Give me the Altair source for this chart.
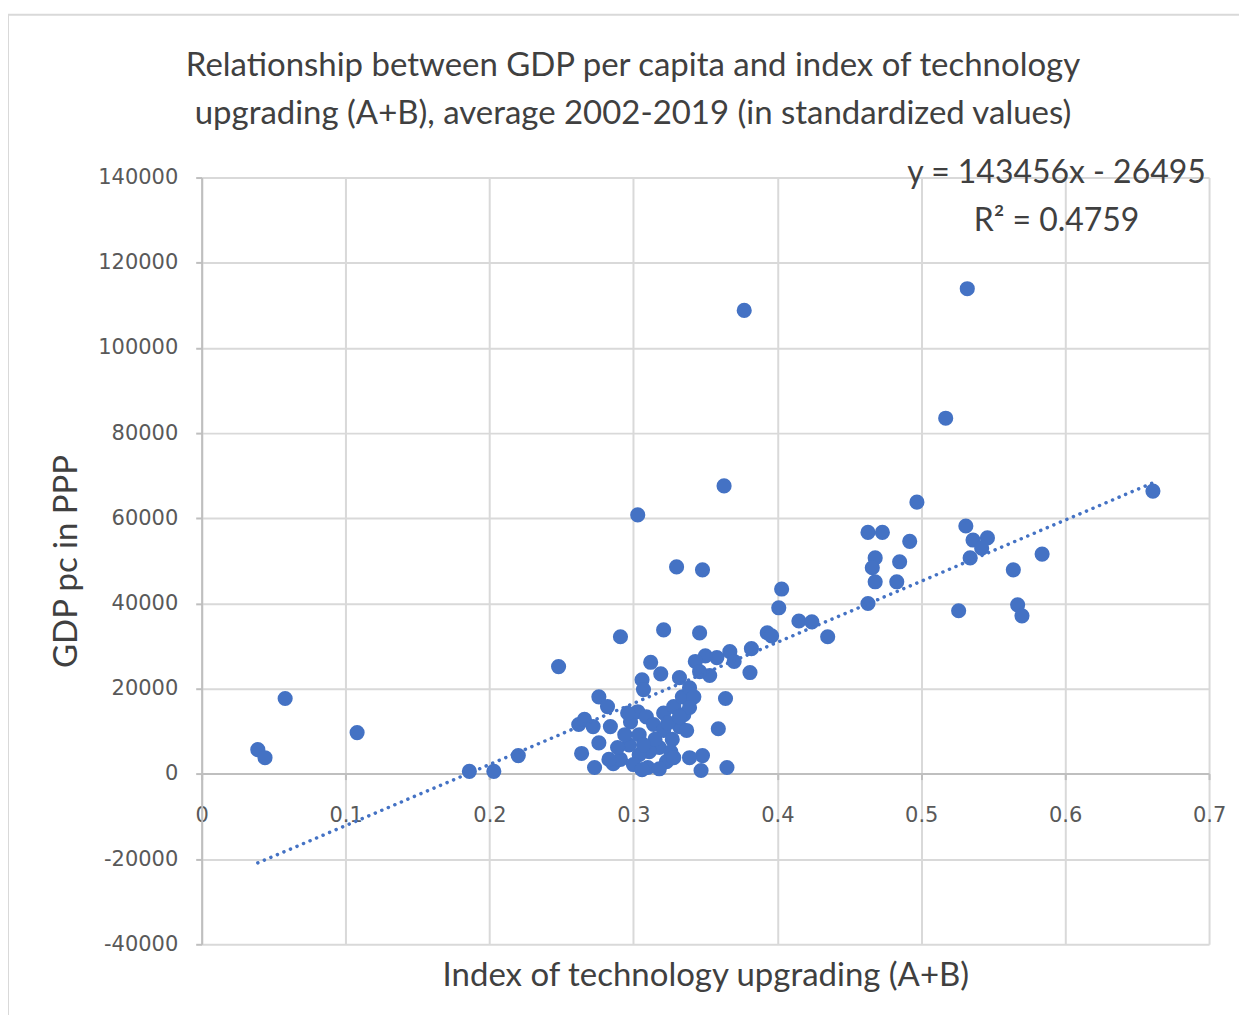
import altair as alt
import pandas as pd

# Index of technology upgrading (A+B)
x_vals = [0.039, 0.044, 0.058, 0.108, 0.186, 0.203, 0.220, 0.248,
          0.291, 0.303, 0.330, 0.348, 0.321, 0.346, 0.377, 0.363,
          0.517, 0.532, 0.497, 0.661, 0.584, 0.564, 0.567, 0.570,
          0.526, 0.531, 0.536, 0.546, 0.542, 0.534,
          0.463, 0.473, 0.492, 0.468, 0.466, 0.485, 0.468, 0.483, 0.463,
          0.435, 0.403, 0.401, 0.393, 0.396, 0.415, 0.424,
          0.382, 0.381, 0.367, 0.370, 0.358, 0.350, 0.343, 0.353, 0.346, 0.332,
          0.364, 0.359, 0.365, 0.347, 0.348, 0.339,
          0.312, 0.319, 0.306, 0.307,
          0.276, 0.282, 0.284, 0.262, 0.266, 0.272, 0.264, 0.273, 0.276,
          0.286, 0.291, 0.297, 0.298, 0.303, 0.296, 0.294, 0.304, 0.309,
          0.314, 0.321, 0.321, 0.328, 0.334, 0.339, 0.342, 0.335, 0.332,
          0.337, 0.327, 0.318, 0.311, 0.304, 0.300, 0.310, 0.323, 0.326,
          0.315, 0.289, 0.307, 0.324, 0.339, 0.332,
          0.283, 0.318, 0.306, 0.328]

# GDP pc in PPP
y_vals = [5700, 3800, 17700, 9700, 600, 600, 4300, 25200,
          32200, 60800, 48600, 47900, 33800, 33100, 108800, 67600,
          83500, 113900, 63800, 66400, 51600, 47900, 39700, 37100,
          38300, 58200, 54900, 55400, 53000, 50700,
          56700, 56700, 54600, 50700, 48400, 49800, 45100, 45100, 40000,
          32200, 43400, 39000, 33100, 32400, 35900, 35700,
          29400, 23800, 28700, 26400, 27300, 27700, 26400, 23100, 24000, 22600,
          17700, 10600, 1500, 800, 4300, 3800,
          26200, 23500, 22100, 19800,
          18100, 15800, 11100, 11600, 12800, 11100, 4800, 1500, 7300,
          2400, 3400, 6800, 12200, 14600, 14300, 9200, 9200, 13400,
          11600, 10200, 14300, 15800, 18100, 20200, 18100, 13900, 11100,
          10200, 8100, 6200, 5200, 4500, 2200, 1500, 2900, 5200,
          8100, 6200, 6800, 12000, 15600, 13400,
          3400, 1200, 1000, 3800]

# Trendline as printed on the chart
slope = 143456
intercept = -26495
eq_labels = ["y = 143456x - 26495", "R² = 0.4759"]
eq_x = [0.594, 0.594]
eq_y = [141000, 129700]

x_ticks = [0, 0.1, 0.2, 0.3, 0.4, 0.5, 0.6, 0.7]
y_ticks = [-40000, -20000, 0, 20000, 40000, 60000, 80000, 100000, 120000, 140000]

title_lines = ["Relationship between GDP per capita and index of technology",
               "upgrading (A+B), average 2002-2019 (in standardized values)"]

BLUE = "#4472C4"
GRID = "#d9d9d9"
AXIS = "#bfbfbf"
LABEL = "#595959"
TITLE = "#404040"
TFONT = "Lato, Liberation Sans, sans-serif"
WIDE = "DejaVu Sans, sans-serif"

df = pd.DataFrame({"x": x_vals, "y": y_vals})
trend = pd.DataFrame({"x": [min(x_vals), max(x_vals)]})
ann = pd.DataFrame({"label": eq_labels, "x": eq_x, "y": eq_y})
title_df = pd.DataFrame({"t": ["\n".join(title_lines)]})
frame_df = pd.DataFrame({"k": [0]})

xscale = alt.Scale(domain=[0, 0.7], nice=False, zero=False)
yscale = alt.Scale(domain=[-40000, 140000], nice=False)

x_axis = alt.Axis(
    values=x_ticks, format=".1~f", offset=-171, labelFlush=False,
    grid=True, gridColor=GRID, gridWidth=2,
    domainColor=AXIS, domainWidth=2,
    tickColor=AXIS, tickWidth=2, tickSize=6,
    labelFont=WIDE, labelFontSize=21, labelColor=LABEL, labelPadding=25,
    title="Index of technology upgrading (A+B)",
    titleFont=TFONT, titleFontSize=33, titleFontWeight="normal", titleColor=TITLE,
    titlePadding=134,
)
y_axis = alt.Axis(
    values=y_ticks, labelExpr="datum.value + ''",
    grid=True, gridColor=GRID, gridWidth=2,
    domainColor=AXIS, domainWidth=2,
    tickColor=AXIS, tickWidth=2, tickSize=6,
    labelFont=WIDE, labelFontSize=21, labelColor=LABEL, labelPadding=18,
    title="GDP pc in PPP",
    titleFont=TFONT, titleFontSize=33, titleFontWeight="normal", titleColor=TITLE,
    titlePadding=14,
)

frame = alt.Chart(frame_df).mark_rect(
    fill=None, stroke=GRID, strokeWidth=2
).encode(
    x=alt.value(-194), x2=alt.value(1120),
    y=alt.value(-163), y2=alt.value(900),
)

title = alt.Chart(title_df).mark_text(
    font=TFONT, fontSize=33, color=TITLE, align="center", baseline="middle",
    lineBreak="\n", lineHeight=48,
).encode(
    x=alt.value(432), y=alt.value(-112), text="t:N",
)

points = alt.Chart(df).mark_circle(size=230, color=BLUE, opacity=1).encode(
    x=alt.X("x:Q", scale=xscale, axis=x_axis),
    y=alt.Y("y:Q", scale=yscale, axis=y_axis),
)

line = alt.Chart(trend).transform_calculate(
    yfit=f"{slope} * datum.x + ({intercept})"
).mark_line(color=BLUE, strokeWidth=3.5, strokeDash=[0.1, 7], strokeCap="round").encode(
    x=alt.X("x:Q", scale=xscale),
    y=alt.Y("yfit:Q", scale=yscale),
)

text = alt.Chart(ann).mark_text(
    font=TFONT, fontSize=32, color=TITLE, align="center", baseline="middle"
).encode(
    x=alt.X("x:Q", scale=xscale),
    y=alt.Y("y:Q", scale=yscale),
    text="label:N",
)

chart = alt.layer(points, line, text, title, frame).properties(
    width=1009,
    height=768,
    padding={"left": 194, "top": 169, "right": 30, "bottom": 70},
    autosize=alt.AutoSizeParams(type="none"),
).configure_view(stroke=None)

chart.save("out.html", embed_options={"renderer": "svg", "actions": False})
